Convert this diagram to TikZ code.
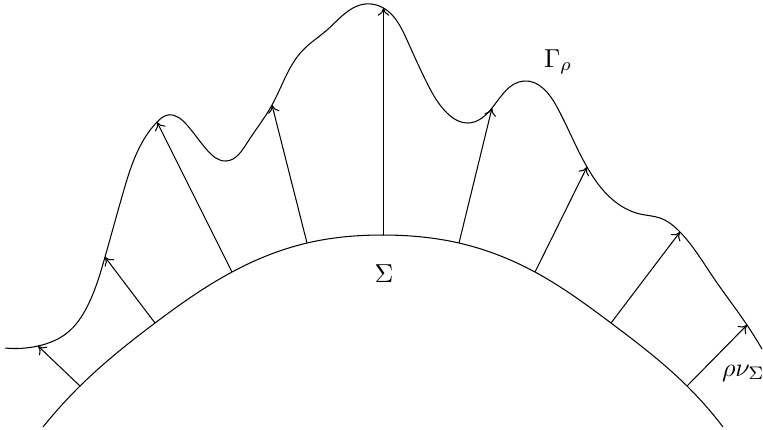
\documentclass[tikz,border=0pt]{standalone}
\usetikzlibrary{arrows.meta,hobby}
\begin{document}
\begin{tikzpicture}[x=0.385pt,y=-0.385pt,
  curve/.style={line width=0.4pt,use Hobby shortcut},
  normal/.style={line width=0.4pt,-{To[length=3pt,width=4.5pt]}},
  lbl/.style={inner sep=0pt,outer sep=0pt}]
\useasboundingbox (0,0) rectangle (763,429);
% feet on Sigma
\coordinate (f1) at (80,386);
\coordinate (f2) at (155,323);
\coordinate (f3) at (232,272);
\coordinate (f4) at (307,243);
\coordinate (f5) at (383.5,235);
\coordinate (f6) at (459,243);
\coordinate (f7) at (535,272);
\coordinate (f8) at (611,323);
\coordinate (f9) at (687,386);
% tips on Gamma
\coordinate (t1) at (38,346);
\coordinate (t2) at (105,257);
\coordinate (t3) at (157,122);
\coordinate (t4) at (272,105);
\coordinate (t5) at (383.5,8);
\coordinate (t6) at (492,108);
\coordinate (t7) at (587,167);
\coordinate (t8) at (680,232);
\coordinate (t9) at (747,325);
% Sigma
\draw[curve] (43,427) .. (f1) .. (f2) .. (f3) .. (f4) .. (f5) .. (f6) .. (f7) .. (f8) .. (f9) .. (723,427);
% Gamma_rho
\draw[curve] (5,348) .. (t1) .. (67,333) .. (87,307) .. (t2) .. (123,193) .. (t3) .. (168,115) .. (187,125) .. (207,150) .. (226,161) .. (247,143) .. (t4) .. (303,50) .. (327,30) .. (365,4) .. (t5) .. (407,40) .. (427,83) .. (447,113) .. (468,123) .. (t6) .. (524,81) .. (557,107) .. (t7) .. (613,200) .. (640,214) .. (660,218) .. (t8) .. (713,277) .. (t9) .. (762,349);
% normals
\foreach \i in {1,...,9} {\draw[normal] (f\i) -- (t\i);}
% labels
\node[lbl,anchor=base west] (gam) at (544,67) {$\Gamma_{\rho}$};
\node[lbl,anchor=base] (sig) at (384,282) {$\Sigma$};
\node[lbl,anchor=base west] (rn) at (722,376) {$\rho\nu_{\Sigma}$};
\end{tikzpicture}
\end{document}
